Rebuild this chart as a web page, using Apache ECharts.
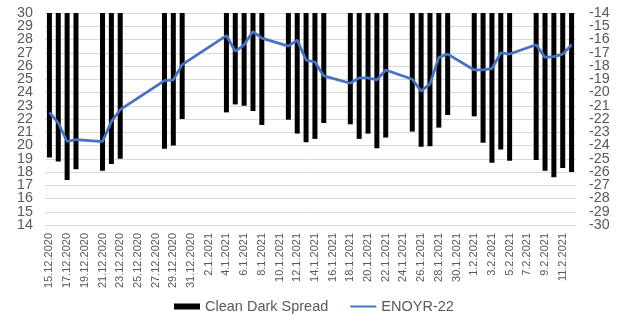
<!DOCTYPE html>
<html>
<head>
<meta charset="utf-8">
<script src="https://cdn.jsdelivr.net/npm/echarts@6/dist/echarts.min.js"></script>
<style>
  html, body { margin: 0; padding: 0; background: #fff; }
  #chart { width: 617px; height: 316px; }
</style>
</head>
<body>
<div id="chart"></div>
<script>
// daily categories, 15.12.2020 .. 12.2.2021
const categories = [
  "15.12.2020", "16.12.2020", "17.12.2020", "18.12.2020", "19.12.2020", "20.12.2020",
  "21.12.2020", "22.12.2020", "23.12.2020", "24.12.2020", "25.12.2020", "26.12.2020",
  "27.12.2020", "28.12.2020", "29.12.2020", "30.12.2020", "31.12.2020",
  "1.1.2021", "2.1.2021", "3.1.2021", "4.1.2021", "5.1.2021", "6.1.2021", "7.1.2021",
  "8.1.2021", "9.1.2021", "10.1.2021", "11.1.2021", "12.1.2021", "13.1.2021", "14.1.2021",
  "15.1.2021", "16.1.2021", "17.1.2021", "18.1.2021", "19.1.2021", "20.1.2021", "21.1.2021",
  "22.1.2021", "23.1.2021", "24.1.2021", "25.1.2021", "26.1.2021", "27.1.2021", "28.1.2021",
  "29.1.2021", "30.1.2021", "31.1.2021",
  "1.2.2021", "2.2.2021", "3.2.2021", "4.2.2021", "5.2.2021", "6.2.2021", "7.2.2021",
  "8.2.2021", "9.2.2021", "10.2.2021", "11.2.2021", "12.2.2021"
];
// Clean Dark Spread (right axis), null = no trading day
const cleanDarkSpread = [
  -24.9, -25.2, -26.6, -25.8, null, null,
  -25.9, -25.4, -25.0, null, null, null,
  null, -24.25, -24.0, -22.0, null,
  null, null, null, -21.5, -20.9, -21.0, -21.4,
  -22.45, null, null, -22.05, -23.1, -23.75, -23.5,
  -22.3, null, null, -22.4, -23.5, -23.1, -24.2,
  -23.4, null, null, -22.95, -24.1, -24.05, -22.65,
  -21.7, null, null,
  -21.8, -23.8, -25.3, -24.3, -25.15, null, null,
  -25.1, -25.9, -26.4, -25.7, -26.0
];
// ENOYR-22 (left axis)
const enoyr22 = [
  22.5, 21.7, 20.3, 20.45, null, null,
  20.3, 21.8, 22.7, null, null, null,
  null, 24.9, 24.95, 26.1, null,
  null, null, null, 28.3, 27.1, 27.6, 28.6,
  28.1, null, null, 27.5, 27.95, 26.45, 26.3,
  25.25, null, null, 24.7, 25.1, 25.1, 24.95,
  25.7, null, null, 25.0, 24.1, 24.65, 26.65,
  26.9, null, null,
  25.7, 25.7, 25.8, 27.0, 26.9, null, null,
  27.6, 26.65, 26.7, 26.9, 27.6
];
const leftRange = [14, 30];
const rightRange = [-30, -14];

const chart = echarts.init(document.getElementById("chart"));
const textColor = "#595959";
const font = "Liberation Sans, Arial, sans-serif";

// value axis helper; ends=true gives an extra axis that only labels min and max
function valueAxis(range, position, margin, ends, split) {
  return {
    type: "value",
    position: position,
    min: range[0],
    max: range[1],
    interval: ends ? range[1] - range[0] : 1,
    axisLine: { show: false },
    axisTick: { show: false },
    splitLine: split ? { lineStyle: { color: "#d9d9d9", width: 1 } } : { show: false },
    axisLabel: {
      color: textColor, fontSize: 14.3, margin: margin, fontFamily: font,
      showMinLabel: ends, showMaxLabel: ends
    }
  };
}

const option = {
  animation: false,
  textStyle: { fontFamily: font },
  grid: { left: 45, right: 41, top: 13, bottom: 91 },
  legend: {
    top: 299,
    left: 174,
    padding: 0,
    itemGap: 21,
    itemWidth: 26,
    itemHeight: 6,
    textStyle: { color: textColor, fontSize: 14.5, fontFamily: font },
    data: [
      { name: "Clean Dark Spread", icon: "rect" },
      { name: "ENOYR-22", itemStyle: { opacity: 0 } }
    ]
  },
  xAxis: {
    type: "category",
    data: categories,
    axisLine: { show: false },
    axisTick: { show: false },
    axisLabel: {
      interval: 1,
      rotate: 90,
      color: textColor,
      fontSize: 11,
      margin: 8,
      fontFamily: font
    }
  },
  yAxis: [
    valueAxis(leftRange, "left", 12, false, true),
    valueAxis(rightRange, "right", 13, false, false),
    valueAxis(leftRange, "left", 12, true, false),
    valueAxis(rightRange, "right", 13, true, false)
  ],
  series: [
    {
      name: "Clean Dark Spread",
      type: "bar",
      yAxisIndex: 1,
      data: cleanDarkSpread,
      barWidth: 5,
      itemStyle: { color: "#000" }
    },
    {
      name: "ENOYR-22",
      type: "line",
      yAxisIndex: 0,
      data: enoyr22,
      connectNulls: true,
      symbol: "none",
      lineStyle: { color: "#4472C4", width: 2.75 },
      itemStyle: { color: "#4472C4" }
    }
  ]
};
chart.setOption(option);
window.addEventListener("resize", () => {
  chart && chart.resize();
});
</script>
</body>
</html>
